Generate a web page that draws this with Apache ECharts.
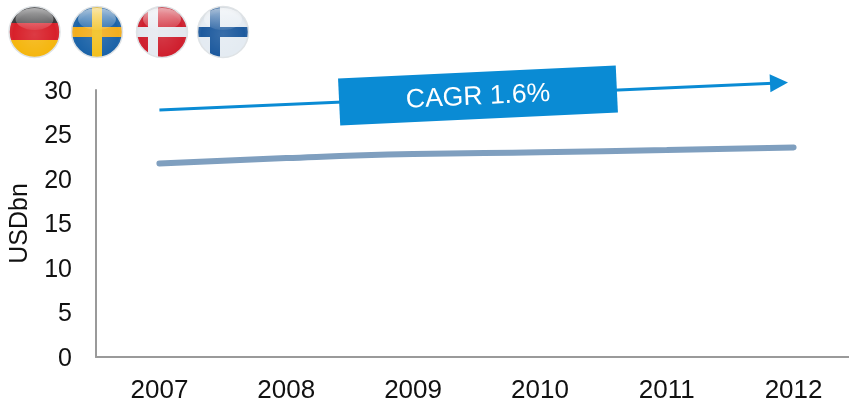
<!DOCTYPE html>
<html lang="en">
<head>
    <meta charset="utf-8">
    <title>USDbn</title>
    <script src="https://cdn.jsdelivr.net/npm/echarts@6/dist/echarts.min.js"></script>
    <style>
        html, body { margin: 0; padding: 0; background: #fff; }
        #chartLine { width: 849px; height: 401px; }
    </style>
</head>
<body>
<div id="chartLine"></div>

<script>
    var years = ['2007', '2008', '2009', '2010', '2011', '2012'];
    var marketValues = [21.75, 22.35, 22.8, 23.0, 23.25, 23.55];
    // trend arrow, x is in category steps from 2007
    var cagrTrend = [[0, 27.75], [4.885, 30.8]];
    var cagrLabel = 'CAGR 1.6%';

    var font = '"Liberation Sans", Arial, sans-serif';
    var blue = '#0a8bd4';

    function bands(dir, stops) {
        var list = [];
        stops.forEach(function (s) {
            list.push({ offset: s[0], color: s[2] });
            list.push({ offset: s[1], color: s[2] });
        });
        return {
            type: 'linear',
            x: 0, y: 0,
            x2: dir === 'h' ? 1 : 0,
            y2: dir === 'h' ? 0 : 1,
            colorStops: list
        };
    }

    function disc(cx, fill) {
        return { type: 'circle', shape: { cx: cx, cy: 32, r: 25.5 }, style: { fill: fill } };
    }

    // top gloss and soft rim on each flag
    function gloss(cx) {
        return [
            {
                type: 'circle',
                shape: { cx: cx, cy: 32, r: 25.5 },
                style: {
                    fill: {
                        type: 'radial', x: 0.5, y: 0.55, r: 0.55,
                        colorStops: [
                            { offset: 0, color: 'rgba(255,255,255,0.12)' },
                            { offset: 0.75, color: 'rgba(255,255,255,0)' },
                            { offset: 1, color: 'rgba(60,60,60,0.18)' }
                        ]
                    },
                    stroke: '#dfe3e6',
                    lineWidth: 1.5
                }
            },
            {
                type: 'ellipse',
                shape: { cx: cx, cy: 19, rx: 19, ry: 11 },
                style: {
                    fill: {
                        type: 'linear', x: 0, y: 0, x2: 0, y2: 1,
                        colorStops: [
                            { offset: 0, color: 'rgba(255,255,255,0.6)' },
                            { offset: 1, color: 'rgba(255,255,255,0.08)' }
                        ]
                    }
                }
            }
        ];
    }

    var T = 'rgba(0,0,0,0)';
    var flags = [].concat(
        // Germany
        [disc(34.5, bands('v', [[0, 0.33, '#333335'], [0.33, 0.66, '#d8202a'], [0.66, 1, '#f5b60f']]))],
        gloss(34.5),
        // Sweden
        [
            disc(97, '#1b63a8'),
            disc(97, bands('v', [[0, 0.4, T], [0.4, 0.6, '#f2ae1e'], [0.6, 1, T]])),
            disc(97, bands('h', [[0, 0.41, T], [0.41, 0.59, '#f2c01e'], [0.59, 1, T]]))
        ],
        gloss(97),
        // Denmark
        [
            disc(162, '#cf1f2e'),
            disc(162, bands('v', [[0, 0.4, T], [0.4, 0.6, '#e3e7ee'], [0.6, 1, T]])),
            disc(162, bands('h', [[0, 0.22, T], [0.22, 0.42, '#e6e9f0'], [0.42, 1, T]]))
        ],
        gloss(162),
        // Finland
        [
            disc(223, '#e4ebf2'),
            disc(223, bands('v', [[0, 0.4, T], [0.4, 0.6, '#1d5a9e'], [0.6, 1, T]])),
            disc(223, bands('h', [[0, 0.25, T], [0.25, 0.44, '#1d5a9e'], [0.44, 1, T]]))
        ],
        gloss(223)
    );

    var chartLine = echarts.init(document.getElementById('chartLine'));
    chartLine.setOption({
        animation: false,
        textStyle: { fontFamily: font },
        // the axis runs past the right edge of the page, so no outer bounds
        grid: { left: 96, width: 761, top: 90, height: 267, outerBoundsMode: 'none' },
        xAxis: [
            {
                type: 'category',
                data: years,
                axisTick: { show: false },
                axisLine: { lineStyle: { color: '#9a9a9a', width: 2 } },
                axisLabel: { color: '#111', fontSize: 26, margin: 21, fontFamily: font }
            },
            {
                // hidden helper axis so the arrow can stop short of the 2012 centre
                type: 'value',
                show: false,
                min: -0.5,
                max: 5.5
            }
        ],
        yAxis: {
            type: 'value',
            min: 0,
            max: 30,
            interval: 5,
            name: 'USDbn',
            nameLocation: 'middle',
            nameGap: 63,
            nameTextStyle: { color: '#111', fontSize: 25, fontFamily: font },
            splitLine: { show: false },
            axisTick: { show: false },
            axisLine: { show: true, onZero: false, lineStyle: { color: '#9a9a9a', width: 2 } },
            axisLabel: {
                margin: 24,
                formatter: '{tick|{value}}',
                rich: {
                    tick: { color: '#111', fontSize: 25, fontFamily: font, padding: [4, 0, 0, 0] }
                }
            }
        },
        series: [
            {
                name: 'USDbn',
                type: 'line',
                data: marketValues,
                smooth: true,
                showSymbol: false,
                lineStyle: { color: '#7f9fbf', width: 6, cap: 'round' }
            },
            {
                name: 'CAGR',
                type: 'line',
                xAxisIndex: 1,
                clip: false,
                z: 3,
                data: cagrTrend.map(function (p, i) {
                    return i === 0
                        ? { value: p, symbol: 'none' }
                        : { value: p, symbol: 'triangle', symbolSize: 18, symbolRotate: -87.4 };
                }),
                showAllSymbol: true,
                itemStyle: { color: blue },
                lineStyle: { color: blue, width: 3 }
            }
        ],
        graphic: flags.concat([
            {
                type: 'group',
                x: 478,
                y: 96,
                rotation: 0.047,
                children: [
                    {
                        type: 'rect',
                        z: 10,
                        shape: { x: -139, y: -24, width: 278, height: 47 },
                        style: { fill: blue }
                    },
                    {
                        type: 'text',
                        z: 11,
                        x: 0,
                        y: 1,
                        style: {
                            text: cagrLabel,
                            fill: '#fff',
                            font: '26.5px ' + font,
                            align: 'center',
                            verticalAlign: 'middle'
                        }
                    }
                ]
            }
        ])
    });
</script>
</body>
</html>
